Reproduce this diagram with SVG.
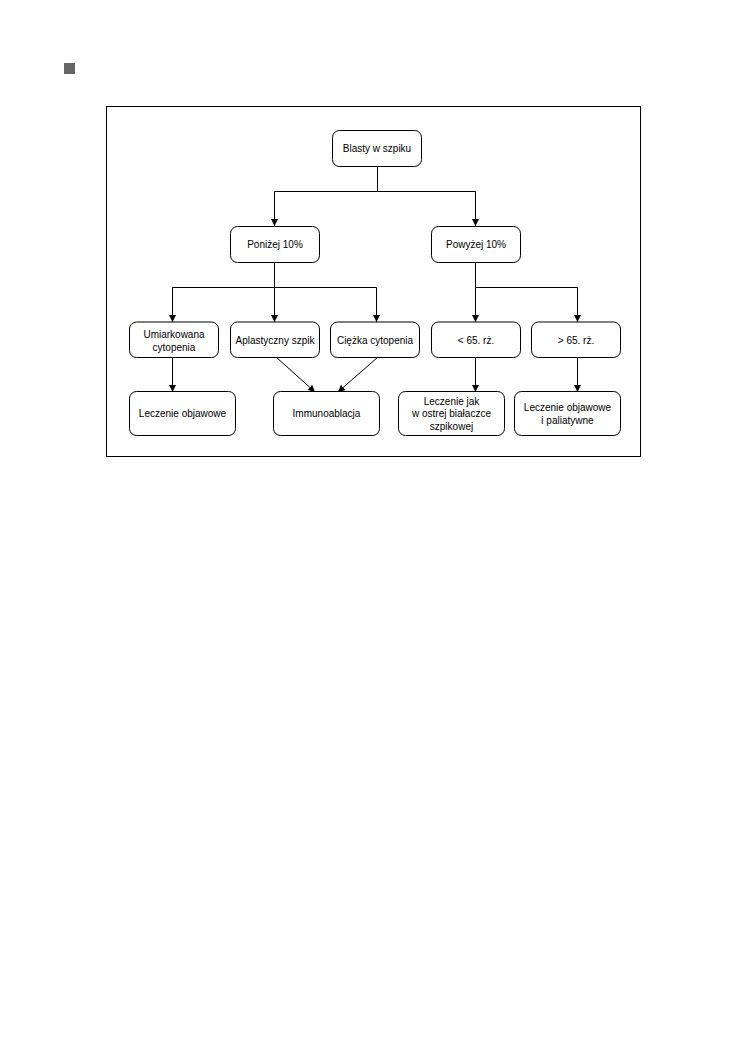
<svg xmlns="http://www.w3.org/2000/svg" width="740" height="1055" viewBox="0 0 740 1055">
<style>
.box{fill:#fff;stroke:#000;stroke-width:1}
.t{font-family:"Liberation Sans",Arial,sans-serif;font-size:10px;fill:#000;text-anchor:middle;dominant-baseline:central}
.c{fill:none;stroke:#000;stroke-width:1}
</style>
<defs>
<marker id="ah" viewBox="0 0 10 10" refX="10" refY="5" markerWidth="7" markerHeight="7" markerUnits="userSpaceOnUse" orient="auto">
<path d="M0,0 L10,5 L0,10 Z" fill="#000"/>
</marker>
</defs>
<rect x="64" y="63" width="11" height="11" fill="#666"/>
<rect x="106.5" y="106.5" width="534" height="350" fill="none" stroke="#000" stroke-width="1"/>
<g id="connectors">
<path class="c" d="M377.5,166 V191.5 H274.5 V226" marker-end="url(#ah)"/>
<path class="c" d="M377.5,191.5 H475.5 V226" marker-end="url(#ah)"/>
<path class="c" d="M274.5,262 V287.5 H172.5 V322" marker-end="url(#ah)"/>
<path class="c" d="M274.5,287.5 V322" marker-end="url(#ah)"/>
<path class="c" d="M274.5,287.5 H376.5 V322" marker-end="url(#ah)"/>
<path class="c" d="M475.5,262 V287.5 H577.5 V322" marker-end="url(#ah)"/>
<path class="c" d="M475.5,287.5 V322" marker-end="url(#ah)"/>
<path class="c" d="M172.5,357 V392" marker-end="url(#ah)"/>
<path class="c" d="M276,357 L315,392" marker-end="url(#ah)"/>
<path class="c" d="M378,357 L338,392" marker-end="url(#ah)"/>
<path class="c" d="M475.5,357 V392" marker-end="url(#ah)"/>
<path class="c" d="M577.5,357 V392" marker-end="url(#ah)"/>
</g>
<g id="n-blasty"><rect class="box" x="332.5" y="130.5" width="89" height="36" rx="7"/><text class="t" x="377" y="148.5">Blasty w szpiku</text></g>
<g id="n-ponizej"><rect class="box" x="230.5" y="226.5" width="89" height="36" rx="7"/><text class="t" x="275" y="244.5">Poniżej 10%</text></g>
<g id="n-powyzej"><rect class="box" x="431.5" y="226.5" width="89" height="36" rx="7"/><text class="t" x="476" y="244.5">Powyżej 10%</text></g>
<g id="n-umiark"><rect class="box" x="129.5" y="322" width="89" height="35.5" rx="7"/><text class="t" x="174" y="334">Umiarkowana</text><text class="t" x="174" y="347">cytopenia</text></g>
<g id="n-aplast"><rect class="box" x="230.5" y="322" width="89" height="35.5" rx="7"/><text class="t" x="275" y="340">Aplastyczny szpik</text></g>
<g id="n-ciezka"><rect class="box" x="330.5" y="322" width="89" height="35.5" rx="7"/><text class="t" x="375" y="340">Ciężka cytopenia</text></g>
<g id="n-lt65"><rect class="box" x="431.5" y="322" width="89" height="35.5" rx="7"/><text class="t" x="476" y="340">&lt; 65. rż.</text></g>
<g id="n-gt65"><rect class="box" x="531.5" y="322" width="89" height="35.5" rx="7"/><text class="t" x="576" y="340">&gt; 65. rż.</text></g>
<g id="n-lecz1"><rect class="box" x="129.5" y="391.5" width="106" height="44" rx="7"/><text class="t" x="182.5" y="413">Leczenie objawowe</text></g>
<g id="n-immuno"><rect class="box" x="273.5" y="391.5" width="106" height="44" rx="7"/><text class="t" x="326.5" y="413">Immunoablacja</text></g>
<g id="n-lecz2"><rect class="box" x="398.5" y="391.5" width="106" height="44" rx="7"/><text class="t" x="451.5" y="401">Leczenie jak</text><text class="t" x="451.5" y="413.5">w ostrej białaczce</text><text class="t" x="451.5" y="426">szpikowej</text></g>
<g id="n-lecz3"><rect class="box" x="514.5" y="391.5" width="106" height="44" rx="7"/><text class="t" x="567.5" y="407">Leczenie objawowe</text><text class="t" x="567.5" y="420">i paliatywne</text></g>
</svg>
